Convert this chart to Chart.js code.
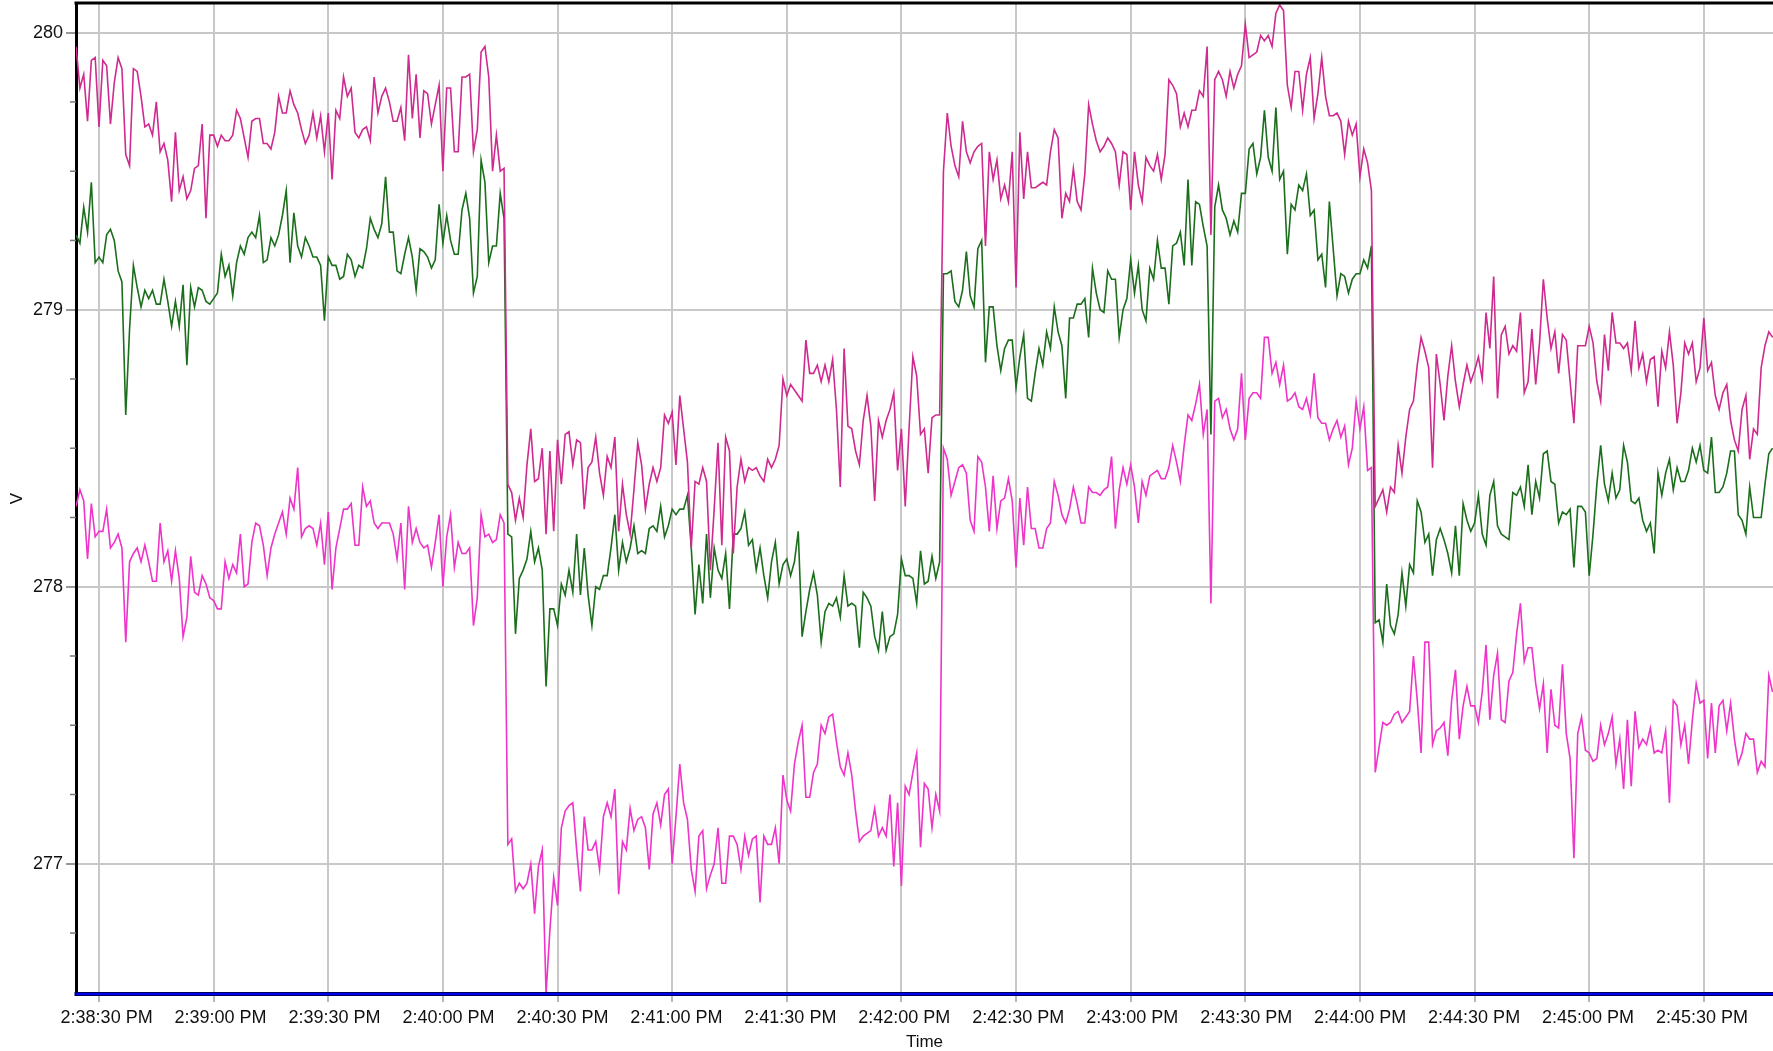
<!DOCTYPE html>
<html>
<head>
<meta charset="utf-8">
<title>V vs Time</title>
<script src="https://cdn.jsdelivr.net/npm/chart.js@4.4.1/dist/chart.umd.min.js"></script>
<style>
html, body { margin: 0; padding: 0; background: #fff; }
canvas { display: block; }
</style>
</head>
<body>
<canvas id="voltChart" width="1773" height="1051"></canvas>
<script>
//first sample = 2:38:24 PM, one sample per second (seconds counted from 2:38:00 PM)
const firstSecond = 24;

//upper trace (V)
const upperV = [
279.95, 279.80, 279.85, 279.68, 279.90, 279.91, 279.66, 279.90, 279.88, 279.67,
279.82, 279.91, 279.87, 279.56, 279.52, 279.87, 279.86, 279.77, 279.66, 279.67,
279.63, 279.75, 279.57, 279.60, 279.54, 279.39, 279.64, 279.43, 279.48, 279.40,
279.43, 279.51, 279.52, 279.67, 279.33, 279.63, 279.63, 279.59, 279.63, 279.61,
279.61, 279.63, 279.72, 279.69, 279.62, 279.55, 279.68, 279.69, 279.69, 279.60,
279.60, 279.58, 279.64, 279.77, 279.71, 279.71, 279.79, 279.74, 279.71, 279.65,
279.60, 279.63, 279.71, 279.62, 279.70,
279.57, 279.71, 279.47, 279.72, 279.69, 279.84, 279.77, 279.80, 279.64, 279.62,
279.65, 279.66, 279.61, 279.84, 279.71, 279.77, 279.80, 279.75, 279.68, 279.68,
279.73, 279.61, 279.92, 279.69, 279.85, 279.62, 279.79, 279.78, 279.67, 279.74,
279.81, 279.50, 279.80, 279.80, 279.57, 279.57, 279.84, 279.84, 279.85, 279.57,
279.65, 279.93, 279.95, 279.84, 279.50, 279.63, 279.50, 279.51, 278.37, 278.34,
278.24, 278.32, 278.25, 278.44, 278.57, 278.38, 278.39, 278.50, 278.19, 278.49,
278.20, 278.53, 278.37, 278.55, 278.56,
278.44, 278.53, 278.52, 278.28, 278.43, 278.45, 278.54, 278.41, 278.33, 278.47,
278.43, 278.54, 278.20, 278.37, 278.26, 278.19, 278.35, 278.52, 278.44, 278.28,
278.37, 278.43, 278.38, 278.43, 278.62, 278.59, 278.63, 278.44, 278.69, 278.57,
278.45, 278.14, 278.38, 278.37, 278.43, 278.38, 278.06, 278.28, 278.52, 278.15,
278.54, 278.49, 278.12, 278.36, 278.46, 278.38, 278.43, 278.42, 278.43, 278.40,
278.38, 278.46, 278.43, 278.46, 278.51, 278.75, 278.69, 278.73, 278.71, 278.69,
278.67, 278.89, 278.77, 278.77, 278.80,
278.74, 278.80, 278.74, 278.82, 278.64, 278.36, 278.86, 278.58, 278.57, 278.49,
278.44, 278.60, 278.69, 278.58, 278.31, 278.60, 278.54, 278.60, 278.64, 278.70,
278.42, 278.57, 278.29, 278.57, 278.83, 278.76, 278.55, 278.57, 278.41, 278.61,
278.62, 278.62, 279.50, 279.71, 279.59, 279.52, 279.48, 279.68, 279.57, 279.53,
279.57, 279.59, 279.60, 279.23, 279.57, 279.47, 279.54, 279.40, 279.45, 279.39,
279.57, 279.08, 279.64, 279.40, 279.57, 279.44, 279.44, 279.45, 279.46, 279.45,
279.57, 279.65, 279.62, 279.33, 279.42,
279.39, 279.51, 279.39, 279.36, 279.49, 279.74, 279.67, 279.61, 279.57, 279.59,
279.62, 279.60, 279.57, 279.45, 279.57, 279.56, 279.36, 279.57, 279.45, 279.39,
279.55, 279.52, 279.50, 279.56, 279.47, 279.56, 279.83, 279.81, 279.78, 279.66,
279.71, 279.66, 279.72, 279.72, 279.79, 279.77, 279.95, 279.27, 279.83, 279.86,
279.83, 279.77, 279.86, 279.80, 279.85, 279.88, 280.03, 279.91, 279.92, 279.93,
279.99, 279.97, 279.99, 279.95, 280.07, 280.10, 280.08, 279.81, 279.73, 279.86,
279.86, 279.72, 279.85, 279.91, 279.69, 279.78,
279.91, 279.77, 279.70, 279.70, 279.71, 279.68, 279.56, 279.68, 279.63, 279.67,
279.48, 279.58, 279.53, 279.43, 278.29, 278.32, 278.35, 278.27, 278.36, 278.34,
278.51, 278.41, 278.54, 278.64, 278.67, 278.80, 278.90, 278.85, 278.79, 278.43,
278.84, 278.73, 278.60, 278.76, 278.87, 278.74, 278.65, 278.73, 278.80, 278.74,
278.78, 278.83, 278.75, 278.99, 278.86, 279.12, 278.68, 278.91, 278.94, 278.84,
278.87, 278.85, 278.99, 278.70, 278.74, 278.93, 278.73, 278.88, 279.11, 278.97,
278.86, 278.92, 278.77, 278.91, 278.89,
278.74, 278.59, 278.87, 278.87, 278.87, 278.94, 278.88, 278.74, 278.67, 278.91,
278.78, 278.99, 278.88, 278.88, 278.86, 278.88, 278.78, 278.96, 278.79, 278.84,
278.74, 278.82, 278.83, 278.65, 278.85, 278.79, 278.92, 278.80, 278.59, 278.70,
278.88, 278.84, 278.88, 278.74, 278.79, 278.97, 278.78, 278.81, 278.69, 278.64,
278.70, 278.73, 278.60, 278.53, 278.49, 278.64, 278.69, 278.46, 278.57, 278.55,
278.79, 278.87, 278.92, 278.90
];

//middle trace (V)
const middleV = [
279.27, 279.24, 279.37, 279.28, 279.46, 279.17, 279.19, 279.17, 279.27, 279.29,
279.25, 279.14, 279.10, 278.62, 278.93, 279.16, 279.08, 279.01, 279.07, 279.04,
279.07, 279.02, 279.02, 279.11, 279.03, 278.94, 279.03, 278.94, 279.09, 278.80,
279.08, 279.01, 279.08, 279.07, 279.03, 279.02, 279.04, 279.06, 279.20, 279.12,
279.16, 279.05, 279.17, 279.23, 279.20, 279.26, 279.28, 279.26, 279.34, 279.17,
279.18, 279.26, 279.23, 279.27, 279.34, 279.43, 279.17, 279.35, 279.23, 279.19,
279.26, 279.23, 279.19, 279.19, 279.16,
278.96, 279.19, 279.16, 279.16, 279.11, 279.12, 279.20, 279.18, 279.12, 279.16,
279.15, 279.22, 279.33, 279.29, 279.26, 279.31, 279.48, 279.28, 279.28, 279.14,
279.13, 279.20, 279.26, 279.19, 279.07, 279.22, 279.21, 279.19, 279.15, 279.18,
279.38, 279.24, 279.34, 279.25, 279.20, 279.20, 279.36, 279.42, 279.33, 279.06,
279.12, 279.54, 279.46, 279.17, 279.23, 279.23, 279.42, 279.33, 278.19, 278.18,
277.83, 278.03, 278.06, 278.10, 278.20, 278.09, 278.14, 278.06, 277.64, 277.92,
277.92, 277.86, 278.01, 277.97, 278.06,
277.98, 278.19, 277.97, 278.14, 277.97, 277.86, 278.00, 277.99, 278.04, 278.04,
278.14, 278.26, 278.06, 278.16, 278.09, 278.14, 278.22, 278.12, 278.13, 278.12,
278.21, 278.22, 278.20, 278.29, 278.18, 278.22, 278.28, 278.26, 278.28, 278.28,
278.33, 278.14, 277.90, 278.08, 277.94, 278.19, 277.96, 278.14, 278.06, 278.03,
278.12, 277.92, 278.19, 278.19, 278.21, 278.27, 278.15, 278.17, 278.06, 278.14,
278.04, 277.96, 278.09, 278.16, 278.01, 278.08, 278.10, 278.04, 278.09, 278.20,
277.82, 277.91, 277.99, 278.05, 277.97,
277.80, 277.91, 277.94, 277.93, 277.96, 277.89, 278.04, 277.93, 277.94, 277.93,
277.78, 277.98, 277.96, 277.93, 277.82, 277.77, 277.91, 277.77, 277.82, 277.83,
277.90, 278.10, 278.04, 278.04, 278.03, 277.94, 278.13, 278.01, 278.02, 278.11,
278.03, 278.09, 279.13, 279.13, 279.14, 279.03, 279.01, 279.07, 279.21, 279.05,
279.01, 279.22, 279.25, 278.81, 279.01, 279.01, 278.87, 278.78, 278.86, 278.89,
278.89, 278.72, 278.83, 278.91, 278.68, 278.67, 278.77, 278.86, 278.80, 278.92,
278.86, 279.01, 278.92, 278.87, 278.68,
278.97, 278.97, 279.02, 279.02, 279.04, 278.90, 279.15, 279.06, 279.00, 278.99,
279.14, 279.11, 279.11, 278.90, 279.00, 279.04, 279.18, 279.06, 279.16, 279.00,
278.96, 279.15, 279.11, 279.25, 279.15, 279.15, 279.02, 279.23, 279.24, 279.28,
279.16, 279.47, 279.16, 279.39, 279.38, 279.30, 279.23, 278.55, 279.37, 279.45,
279.36, 279.33, 279.27, 279.32, 279.28, 279.42, 279.42, 279.58, 279.60, 279.49,
279.55, 279.72, 279.55, 279.50, 279.73, 279.47, 279.50, 279.20, 279.38, 279.36,
279.45, 279.43, 279.49, 279.34, 279.36, 279.18,
279.20, 279.08, 279.39, 279.22, 279.05, 279.13, 279.12, 279.06, 279.11, 279.13,
279.13, 279.18, 279.15, 279.23, 277.87, 277.88, 277.80, 278.01, 277.86, 277.83,
277.90, 278.05, 277.93, 278.08, 278.05, 278.31, 278.27, 278.16, 278.19, 278.04,
278.17, 278.21, 278.17, 278.12, 278.05, 278.22, 278.04, 278.30, 278.24, 278.20,
278.23, 278.33, 278.19, 278.15, 278.33, 278.38, 278.22, 278.19, 278.18, 278.17,
278.34, 278.33, 278.36, 278.29, 278.44, 278.26, 278.38, 278.32, 278.48, 278.49,
278.38, 278.37, 278.23, 278.27, 278.26,
278.28, 278.07, 278.29, 278.29, 278.27, 278.04, 278.19, 278.37, 278.51, 278.37,
278.31, 278.41, 278.32, 278.35, 278.51, 278.45, 278.31, 278.30, 278.32, 278.24,
278.20, 278.23, 278.12, 278.41, 278.33, 278.41, 278.46, 278.35, 278.43, 278.38,
278.38, 278.42, 278.50, 278.45, 278.51, 278.42, 278.41, 278.54, 278.34, 278.34,
278.36, 278.41, 278.49, 278.49, 278.26, 278.24, 278.19, 278.36, 278.25, 278.25,
278.25, 278.37, 278.48, 278.50
];

//lower trace (V)
const lowerV = [
278.29, 278.35, 278.31, 278.10, 278.30, 278.18, 278.20, 278.20, 278.28, 278.14,
278.16, 278.19, 278.14, 277.80, 278.09, 278.12, 278.14, 278.09, 278.15, 278.09,
278.02, 278.02, 278.23, 278.09, 278.13, 278.02, 278.13, 278.03, 277.82, 277.89,
278.11, 277.98, 277.97, 278.04, 278.01, 277.96, 277.95, 277.92, 277.92, 278.09,
278.03, 278.08, 278.05, 278.19, 278.00, 278.01, 278.16, 278.23, 278.22, 278.15,
278.04, 278.14, 278.19, 278.23, 278.27, 278.19, 278.32, 278.28, 278.43, 278.18,
278.21, 278.22, 278.21, 278.15, 278.23,
278.08, 278.27, 277.99, 278.14, 278.21, 278.28, 278.28, 278.30, 278.15, 278.15,
278.36, 278.29, 278.31, 278.23, 278.21, 278.23, 278.23, 278.23, 278.19, 278.10,
278.23, 277.99, 278.29, 278.16, 278.21, 278.16, 278.14, 278.15, 278.07, 278.16,
278.26, 278.00, 278.18, 278.26, 278.07, 278.16, 278.12, 278.12, 278.14, 277.86,
277.96, 278.26, 278.18, 278.19, 278.16, 278.17, 278.26, 278.23, 277.07, 277.09,
276.90, 276.93, 276.91, 276.93, 277.00, 276.82, 276.99, 277.05, 276.53, 276.76,
276.95, 276.85, 277.13, 277.19, 277.21,
277.22, 277.05, 276.90, 277.17, 277.05, 277.05, 277.08, 276.98, 277.17, 277.22,
277.17, 277.27, 276.89, 277.08, 277.05, 277.20, 277.12, 277.16, 277.17, 277.13,
276.98, 277.18, 277.22, 277.14, 277.25, 277.27, 277.00, 277.17, 277.36, 277.22,
277.16, 276.98, 276.90, 277.10, 277.12, 276.91, 276.96, 277.00, 277.13, 276.93,
276.93, 277.10, 277.10, 277.07, 276.98, 277.10, 277.03, 277.09, 277.10, 276.86,
277.10, 277.07, 277.07, 277.13, 277.00, 277.32, 277.23, 277.19, 277.36, 277.44,
277.50, 277.24, 277.24, 277.33, 277.36,
277.50, 277.47, 277.53, 277.54, 277.44, 277.35, 277.32, 277.40, 277.32, 277.19,
277.08, 277.10, 277.11, 277.12, 277.20, 277.10, 277.13, 277.10, 277.25, 276.99,
277.22, 276.92, 277.28, 277.25, 277.33, 277.40, 277.06, 277.29, 277.27, 277.13,
277.25, 277.19, 278.50, 278.46, 278.33, 278.38, 278.43, 278.44, 278.41, 278.24,
278.20, 278.47, 278.45, 278.36, 278.20, 278.40, 278.21, 278.31, 278.32, 278.39,
278.31, 278.07, 278.32, 278.15, 278.36, 278.21, 278.21, 278.14, 278.14, 278.21,
278.23, 278.38, 278.33, 278.26, 278.23,
278.28, 278.36, 278.30, 278.23, 278.23, 278.36, 278.34, 278.34, 278.33, 278.35,
278.36, 278.47, 278.21, 278.35, 278.43, 278.37, 278.44, 278.36, 278.23, 278.38,
278.33, 278.40, 278.41, 278.42, 278.39, 278.39, 278.43, 278.51, 278.45, 278.38,
278.51, 278.62, 278.60, 278.66, 278.73, 278.55, 278.64, 277.94, 278.67, 278.68,
278.61, 278.64, 278.57, 278.53, 278.57, 278.77, 278.53, 278.68, 278.70, 278.70,
278.68, 278.90, 278.90, 278.77, 278.81, 278.73, 278.80, 278.67, 278.68, 278.70,
278.65, 278.64, 278.68, 278.62, 278.77, 278.61,
278.59, 278.59, 278.53, 278.57, 278.60, 278.54, 278.58, 278.44, 278.50, 278.67,
278.57, 278.65, 278.42, 278.43, 277.33, 277.42, 277.51, 277.50, 277.51, 277.54,
277.55, 277.51, 277.53, 277.55, 277.75, 277.59, 277.40, 277.80, 277.80, 277.43,
277.48, 277.49, 277.51, 277.39, 277.59, 277.70, 277.45, 277.57, 277.64, 277.57,
277.57, 277.51, 277.62, 277.79, 277.52, 277.68, 277.76, 277.52, 277.51, 277.66,
277.69, 277.83, 277.94, 277.73, 277.78, 277.78, 277.65, 277.56, 277.65, 277.40,
277.63, 277.50, 277.49, 277.72, 277.47,
277.38, 277.02, 277.47, 277.53, 277.41, 277.40, 277.37, 277.38, 277.50, 277.43,
277.47, 277.53, 277.36, 277.45, 277.27, 277.52, 277.28, 277.55, 277.42, 277.45,
277.43, 277.49, 277.40, 277.41, 277.40, 277.48, 277.22, 277.59, 277.57, 277.43,
277.50, 277.36, 277.52, 277.65, 277.58, 277.59, 277.38, 277.58, 277.40, 277.57,
277.59, 277.48, 277.58, 277.45, 277.36, 277.40, 277.47, 277.45, 277.45, 277.33,
277.37, 277.35, 277.68, 277.62
];

//time axis ticks (seconds from 2:38:00 PM)
const timeTicks = [30, 60, 90, 120, 150, 180, 210, 240, 270, 300, 330, 360, 390, 420, 450];
const timeLabels = [
'2:38:30 PM', '2:39:00 PM', '2:39:30 PM', '2:40:00 PM', '2:40:30 PM',
'2:41:00 PM', '2:41:30 PM', '2:42:00 PM', '2:42:30 PM', '2:43:00 PM',
'2:43:30 PM', '2:44:00 PM', '2:44:30 PM', '2:45:00 PM', '2:45:30 PM'
];

//V axis ticks
const voltMajor = [277, 278, 279, 280];
const voltMinor = [276.75, 277.25, 277.5, 277.75, 278.25, 278.5, 278.75, 279.25, 279.5, 279.75];

const seconds = upperV.map((v, i) => firstSecond + i);

const labelFont = {family: "'Liberation Sans', Arial, sans-serif", size: 18};
const titleFont = {family: "'Liberation Sans', Arial, sans-serif", size: 17, lineHeight: 1.05};

//short ticks for the quarter volts + top frame + blue time axis
const frame = {
  id: 'frame',
  afterDraw(chart) {
    const {ctx, chartArea} = chart;
    const y = chart.scales.y;
    ctx.save();
    ctx.strokeStyle = '#777';
    ctx.lineWidth = 1.5;
    voltMinor.forEach(v => {
      const py = y.getPixelForValue(v);
      ctx.beginPath();
      ctx.moveTo(chartArea.left - 6, py);
      ctx.lineTo(chartArea.left, py);
      ctx.stroke();
    });
    ctx.strokeStyle = '#000';
    ctx.lineWidth = 3;
    ctx.beginPath();
    ctx.moveTo(chartArea.left - 1.5, chartArea.top);
    ctx.lineTo(chartArea.right, chartArea.top);
    ctx.stroke();
    ctx.strokeStyle = '#00005a';
    ctx.lineWidth = 4;
    ctx.beginPath();
    ctx.moveTo(chartArea.left - 1.5, chartArea.bottom);
    ctx.lineTo(chartArea.right, chartArea.bottom);
    ctx.stroke();
    ctx.strokeStyle = '#0000f0';
    ctx.lineWidth = 2;
    ctx.beginPath();
    ctx.moveTo(chartArea.left, chartArea.bottom);
    ctx.lineTo(chartArea.right, chartArea.bottom);
    ctx.stroke();
    ctx.restore();
  }
};

const voltChart = new Chart(document.getElementById('voltChart'), {
  type: 'line',
  data: {
    labels: seconds,
    datasets: [
      {data: upperV, borderColor: '#cf2a8f', borderWidth: 1.6},
      {data: middleV, borderColor: '#1b6e1b', borderWidth: 1.6},
      {data: lowerV, borderColor: '#ee34c9', borderWidth: 1.6}
    ]
  },
  options: {
    responsive: false,
    devicePixelRatio: 1,
    animation: false,
    layout: {padding: {top: 3, left: 0, right: 0, bottom: 0}},
    elements: {point: {radius: 0}, line: {tension: 0, fill: false}},
    plugins: {legend: {display: false}, tooltip: {enabled: false}},
    scales: {
      //time grid + tick marks
      x: {
        type: 'linear',
        position: 'bottom',
        weight: 0,
        bounds: 'data',
        min: 23.98,
        max: 468.1,
        afterBuildTicks: (scale) => { scale.ticks = timeTicks.map(v => ({value: v})); },
        afterFit: (scale) => { scale.height = 0; scale.paddingLeft = 0; scale.paddingRight = 0; },
        ticks: {display: false},
        grid: {color: '#c8c8c8', lineWidth: 2, tickLength: 8, tickColor: '#b8b8b8'},
        border: {display: false}
      },
      //time labels (they sit a little off the grid in the original)
      xLabels: {
        type: 'linear',
        position: 'bottom',
        weight: 1,
        bounds: 'data',
        min: 21.94,
        max: 468.69,
        afterBuildTicks: (scale) => { scale.ticks = timeTicks.map(v => ({value: v})); },
        afterFit: (scale) => { scale.height = 57; scale.paddingLeft = 0; scale.paddingRight = 0; },
        ticks: {
          autoSkip: false,
          maxRotation: 0,
          padding: 13,
          color: '#111',
          font: labelFont,
          callback: (value, i) => timeLabels[i]
        },
        grid: {display: false, drawTicks: false},
        border: {display: false},
        title: {display: true, text: 'Time', color: '#111', font: titleFont, padding: {top: 0, bottom: 0}}
      },
      y: {
        type: 'linear',
        bounds: 'data',
        min: 276.53,
        max: 280.107,
        afterBuildTicks: (scale) => { scale.ticks = voltMajor.map(v => ({value: v})); },
        afterFit: (scale) => { scale.width = 76; scale.paddingTop = 0; scale.paddingBottom = 0; },
        ticks: {
          padding: 3,
          color: '#111',
          font: labelFont,
          callback: (value) => String(value)
        },
        grid: {color: '#c8c8c8', lineWidth: 2, tickLength: 10, tickColor: '#777', tickWidth: 1.5},
        border: {display: true, color: '#000', width: 3},
        title: {display: true, text: 'V', color: '#111', font: {family: "'Liberation Sans', Arial, sans-serif", size: 17}, padding: {top: 7, bottom: 0}}
      }
    }
  },
  plugins: [frame]
});
</script>
</body>
</html>
